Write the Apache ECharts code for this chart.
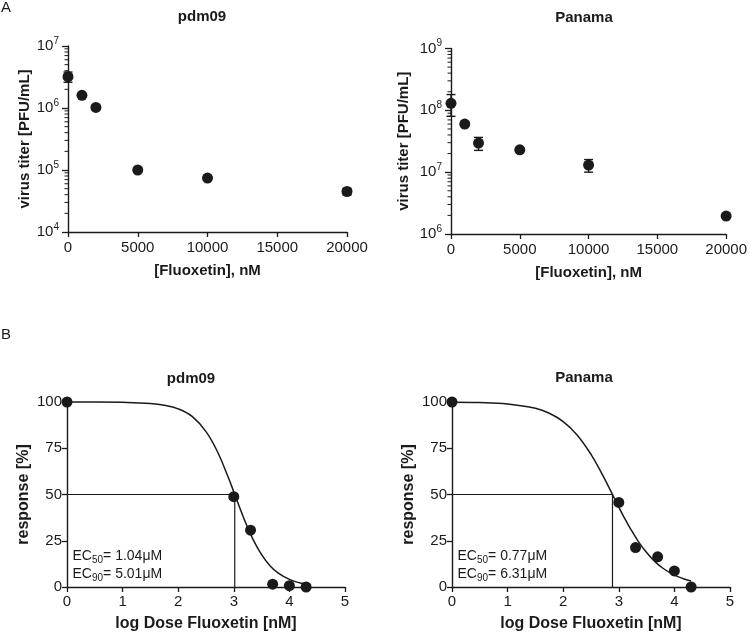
<!DOCTYPE html>
<html>
<head>
<meta charset="utf-8">
<script src="https://cdn.jsdelivr.net/npm/echarts@6/dist/echarts.min.js"></script>
<style>
html,body{margin:0;padding:0;background:#fff;}
#chart{width:750px;height:637px;}
</style>
</head>
<body>
<div id="chart"></div>
<script>
// ---- Data ----
const doses = [0, 1000, 2000, 5000, 10000, 20000];
const pdmTiter = [3.2e6, 1.6e6, 1.02e6, 1.0e5, 7.4e4, 4.5e4];
const pdmErr = [0.6e6, 0, 0, 0, 0, 0.55e4];
const panTiter = [1.3e8, 6.0e7, 2.95e7, 2.3e7, 1.3e7, 1.95e6];
const panErr = [0.5e8, 0, 0.7e7, 0, 0.3e7, 0];

const logDose = [0, 3, 3.301, 3.699, 4, 4.301];
const pdmResp = [100, 48.8, 30.7, 1.5, 0.7, 0];
const panResp = [100, 45.7, 21.3, 16.3, 8.7, 0];

const curveX = [0, 0.5, 1, 1.5, 1.75, 2, 2.25, 2.5, 2.7, 2.9, 3.0, 3.1, 3.2, 3.35, 3.5, 3.65, 3.8, 4.0, 4.15, 4.3];
const pdmCurve = [100, 100, 99.8, 99.2, 98.3, 96.3, 92.2, 84.0, 73.5, 59.3, 51.4, 43.4, 35.7, 25.5, 17.5, 11.5, 7.5, 4.1, 2.5, 1.6];
const panCurve = [99.9, 99.7, 98.9, 96.6, 93.9, 89.4, 82.2, 71.7, 61.0, 49.2, 43.2, 37.4, 32.0, 24.7, 18.6, 13.7, 10.0, 6.4, 4.6, 3.2];

const titles = ['pdm09', 'Panama'];
const ec50uM = [1.04, 0.77];
const ec90uM = [5.01, 6.31];

// ---- helpers ----
const INK = '#1a1a1a';
const FONT = '"Liberation Sans", Arial, sans-serif';

function minorTickValues(minExp, maxExp) {
  const out = [];
  for (let d = minExp; d < maxExp; d++) {
    for (let k = 2; k <= 9; k++) out.push([0, k * Math.pow(10, d)]);
  }
  return out;
}
function errData(xs, ys, es) {
  const out = [];
  xs.forEach((x, i) => { if (es[i] > 0) out.push([x, ys[i] - es[i], ys[i] + es[i]]); });
  return out;
}
const supFmt = v => '{b|10}{s|' + Math.round(Math.log10(v)) + '}';
const plainFmt = v => String(v);

function topXAxis(gi) {
  return {
    type: 'value', gridIndex: gi, min: 0, max: 20000, interval: 5000,
    name: '[Fluoxetin], nM', nameLocation: 'middle', nameGap: 31,
    nameTextStyle: { fontFamily: FONT, fontWeight: 'bold', fontSize: 15, color: INK },
    axisLine: { show: true, onZero: false, lineStyle: { color: INK, width: 1.4 } },
    axisTick: { show: true, length: 5, lineStyle: { color: INK, width: 1.3 } },
    axisLabel: { fontFamily: FONT, fontSize: 15, color: INK, margin: 8, formatter: plainFmt },
    splitLine: { show: false }
  };
}
function topYAxis(gi, mn, mx, gap) {
  return {
    type: 'log', logBase: 10, gridIndex: gi, min: mn, max: mx,
    name: 'virus titer [PFU/mL]', nameLocation: 'middle', nameGap: gap,
    nameTextStyle: { fontFamily: FONT, fontWeight: 'bold', fontSize: 15, color: INK },
    axisLine: { show: true, lineStyle: { color: INK, width: 1.4 } },
    axisTick: { show: true, length: 6, lineStyle: { color: INK, width: 1.3 } },
    axisLabel: {
      formatter: supFmt, margin: 9,
      rich: {
        b: { fontFamily: FONT, fontSize: 15, color: INK, lineHeight: 20 },
        s: { fontFamily: FONT, fontSize: 10, color: INK, lineHeight: 20, verticalAlign: 'top' }
      }
    },
    splitLine: { show: false }, minorTick: { show: false }
  };
}
function botXAxis(gi) {
  return {
    type: 'value', gridIndex: gi, min: 0, max: 5, interval: 1,
    name: 'log Dose Fluoxetin [nM]', nameLocation: 'middle', nameGap: 29,
    nameTextStyle: { fontFamily: FONT, fontWeight: 'bold', fontSize: 16, color: INK },
    axisLine: { show: true, onZero: false, lineStyle: { color: INK, width: 1.4 } },
    axisTick: { show: true, length: 5, lineStyle: { color: INK, width: 1.3 } },
    axisLabel: { fontFamily: FONT, fontSize: 15, color: INK, margin: 7, formatter: plainFmt },
    splitLine: { show: false }
  };
}
function botYAxis(gi) {
  return {
    type: 'value', gridIndex: gi, min: 0, max: 100, interval: 25,
    name: 'response [%]', nameLocation: 'middle', nameGap: 35,
    nameTextStyle: { fontFamily: FONT, fontWeight: 'bold', fontSize: 16, color: INK },
    axisLine: { show: true, lineStyle: { color: INK, width: 1.4 } },
    axisTick: { show: true, length: 5, lineStyle: { color: INK, width: 1.3 } },
    axisLabel: { fontFamily: FONT, fontSize: 15, color: INK, margin: 5, formatter: plainFmt },
    splitLine: { show: false }
  };
}

function minorTickSeries(gi, data) {
  return {
    type: 'custom', xAxisIndex: gi, yAxisIndex: gi, data: data, clip: false, silent: true, z: 5,
    renderItem: (params, api) => {
      const p = api.coord([api.value(0), api.value(1)]);
      return { type: 'line', shape: { x1: p[0] - 3.5, y1: p[1], x2: p[0], y2: p[1] },
               style: { stroke: INK, lineWidth: 1 } };
    }
  };
}
function errSeries(gi, data) {
  return {
    type: 'custom', xAxisIndex: gi, yAxisIndex: gi, data: data, clip: false, silent: true, z: 3,
    renderItem: (params, api) => {
      const lo = api.coord([api.value(0), api.value(1)]);
      const hi = api.coord([api.value(0), api.value(2)]);
      const w = 4.5;
      const st = { stroke: INK, lineWidth: 1.4 };
      return { type: 'group', children: [
        { type: 'line', shape: { x1: lo[0], y1: lo[1], x2: hi[0], y2: hi[1] }, style: st },
        { type: 'line', shape: { x1: lo[0] - w, y1: lo[1], x2: lo[0] + w, y2: lo[1] }, style: st },
        { type: 'line', shape: { x1: hi[0] - w, y1: hi[1], x2: hi[0] + w, y2: hi[1] }, style: st }
      ] };
    }
  };
}
function scatterSeries(gi, xs, ys) {
  return {
    type: 'scatter', xAxisIndex: gi, yAxisIndex: gi, clip: false, z: 4,
    data: xs.map((x, i) => [x, ys[i]]), symbol: 'circle', symbolSize: 11,
    itemStyle: { color: INK, opacity: 1 }, emphasis: { disabled: true }
  };
}
function curveSeries(gi, ys) {
  return {
    type: 'line', xAxisIndex: gi, yAxisIndex: gi, smooth: 0.4, showSymbol: false, symbol: 'none', clip: false, z: 2,
    data: curveX.map((x, i) => [x, ys[i]]), lineStyle: { color: INK, width: 1.5 }
  };
}
function ecGuideSeries(gi, ecUM) {
  const lx = Math.log10(ecUM * 1000);
  return {
    type: 'line', xAxisIndex: gi, yAxisIndex: gi, showSymbol: false, symbol: 'none', clip: false, z: 2,
    data: [[0, 50], [lx, 50], [lx, 0]], lineStyle: { color: INK, width: 1.2 }
  };
}

function titleText(txt, x, y) {
  return { type: 'text', x: x, y: y, silent: true,
           style: { text: txt, font: 'bold 15px ' + FONT, fill: INK, align: 'center', verticalAlign: 'middle' } };
}
function ecText(sub, val, x, y) {
  return { type: 'text', x: x, y: y, silent: true,
    style: {
      text: '{n|EC}{s|' + sub + '}{n|= ' + val.toFixed(2) + 'μM}',
      align: 'left', verticalAlign: 'middle',
      rich: {
        n: { fontFamily: FONT, fontSize: 14, fill: INK, lineHeight: 18 },
        s: { fontFamily: FONT, fontSize: 10, fill: INK, lineHeight: 18, verticalAlign: 'bottom' }
      }
    } };
}

const chart = echarts.init(document.getElementById('chart'), null, { renderer: 'canvas' });
chart.setOption({
  backgroundColor: '#ffffff',
  animation: false,
  grid: [
    { left: 68, top: 46, width: 279, height: 186 },
    { left: 451, top: 48.5, width: 278, height: 185.5 },
    { left: 67, top: 402, width: 278, height: 185 },
    { left: 452, top: 402, width: 278, height: 185 }
  ],
  xAxis: [topXAxis(0), topXAxis(1), botXAxis(2), botXAxis(3)],
  yAxis: [topYAxis(0, 1e4, 1e7, 34), topYAxis(1, 1e6, 1e9, 40), botYAxis(2), botYAxis(3)],
  series: [
    minorTickSeries(0, minorTickValues(4, 7)),
    minorTickSeries(1, minorTickValues(6, 9)),
    errSeries(0, errData(doses, pdmTiter, pdmErr)),
    errSeries(1, errData(doses, panTiter, panErr)),
    scatterSeries(0, doses, pdmTiter),
    scatterSeries(1, doses, panTiter),
    ecGuideSeries(2, ec50uM[0]),
    ecGuideSeries(3, ec50uM[1]),
    curveSeries(2, pdmCurve),
    curveSeries(3, panCurve),
    scatterSeries(2, logDose, pdmResp),
    scatterSeries(3, logDose, panResp)
  ],
  graphic: [
    { type: 'text', x: 1, y: 7.5, silent: true, style: { text: 'A', font: '15px ' + FONT, fill: INK, align: 'left', verticalAlign: 'middle' } },
    { type: 'text', x: 1, y: 335, silent: true, style: { text: 'B', font: '15px ' + FONT, fill: INK, align: 'left', verticalAlign: 'middle' } },
    titleText(titles[0], 202, 17),
    titleText(titles[1], 584, 18),
    titleText(titles[0], 191, 378.5),
    titleText(titles[1], 584, 378),
    ecText('50', ec50uM[0], 72.5, 556),
    ecText('90', ec90uM[0], 72.5, 574.5),
    ecText('50', ec50uM[1], 457.5, 556),
    ecText('90', ec90uM[1], 457.5, 574.5)
  ]
});
</script>
</body>
</html>
